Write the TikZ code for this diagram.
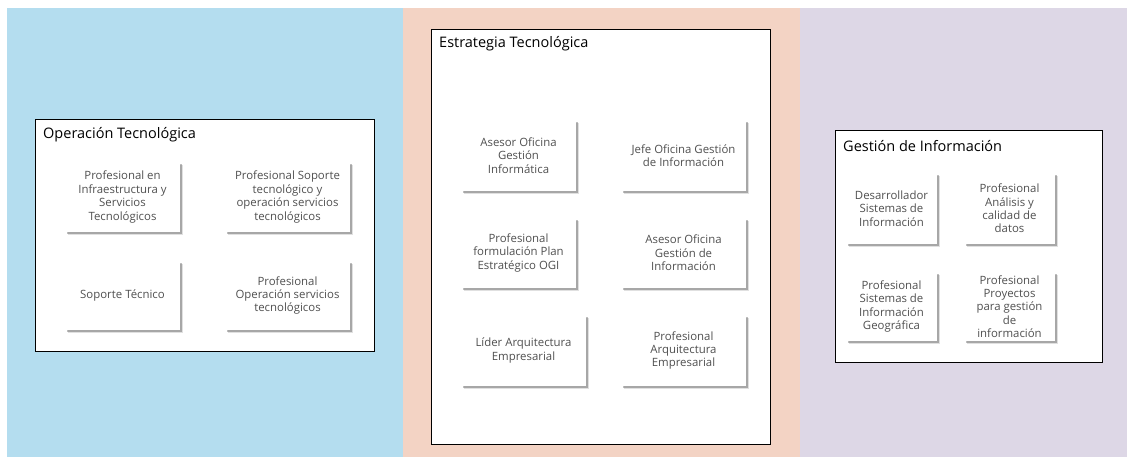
\documentclass[tikz,border=0pt]{standalone}
\usepackage{fontspec}
\setmainfont{Open Sans}
\usetikzlibrary{shadows}
\definecolor{bandblue}{RGB}{180,221,239}
\definecolor{bandsalmon}{RGB}{243,211,196}
\definecolor{bandlilac}{RGB}{221,215,230}
\definecolor{roletext}{RGB}{80,80,80}
\tikzset{
  area/.style={draw=black, fill=white, line width=0.8pt},
  areatitle/.style={anchor=west, inner sep=0pt, font=\fontsize{14.5}{17}\selectfont},
  role/.style={fill=white, text=roletext, align=center, inner sep=1pt,
    font=\fontsize{11.4}{13.4}\selectfont,
    drop shadow={shadow xshift=3pt, shadow yshift=-3pt, opacity=0.12, fill=black},
    drop shadow={shadow xshift=1.8pt, shadow yshift=-1.8pt, opacity=0.25, fill=black}},
}
\begin{document}
\begin{tikzpicture}[x=1pt, y=-1pt]
\useasboundingbox (0,0) rectangle (1127,457);
% bands
\fill [bandblue] (7,8) rectangle (403,457);
\fill [bandsalmon] (403,8) rectangle (800,457);
\fill [bandlilac] (800,8) rectangle (1127,457);

% Operacion Tecnologica
\draw [area] (35,119) rectangle (374,351);
\node [areatitle] (optitle) at (43,135) {Operación Tecnológica};
\node [role, minimum width=115, minimum height=70] (opinfra) at (122.5,197) {Profesional en\\Infraestructura y\\Servicios\\Tecnológicos};
\node [role, minimum width=125, minimum height=70] (opsoporte) at (287.5,197) {Profesional Soporte\\tecnológico y\\operación servicios\\tecnológicos};
\node [role, minimum width=115, minimum height=69] (optecnico) at (122.5,295.5) {Soporte Técnico};
\node [role, minimum width=125, minimum height=69] (opservicios) at (287.5,295.5) {Profesional\\Operación servicios\\tecnológicos};

% Estrategia Tecnologica
\draw [area] (431,29) rectangle (770,444);
\node [areatitle] (ettitle) at (439,44) {Estrategia Tecnológica};
\node [role, minimum width=115, minimum height=71] (etasesorgi) at (518.5,155.5) {Asesor Oficina\\Gestión\\Informática};
\node [role, minimum width=125, minimum height=71] (etjefe) at (683.5,155.5) {Jefe Oficina Gestión\\de Información};
\node [role, minimum width=115, minimum height=70] (etplan) at (518.5,253) {Profesional\\formulación Plan\\Estratégico OGI};
\node [role, minimum width=125, minimum height=70] (etasesorinfo) at (683.5,253) {Asesor Oficina\\Gestión de\\Información};
\node [role, minimum width=125, minimum height=71] (etlider) at (523.5,350.5) {Líder Arquitectura\\Empresarial};
\node [role, minimum width=125, minimum height=71] (etarq) at (683.5,350.5) {Profesional\\Arquitectura\\Empresarial};

% Gestion de Informacion
\draw [area] (835,130) rectangle (1102,362);
\node [areatitle] (gititle) at (843,146) {Gestión de Información};
\node [role, minimum width=91, minimum height=71] (gidesarrollo) at (891.5,208.5) {Desarrollador\\Sistemas de\\Información};
\node [role, minimum width=91, minimum height=71] (gidatos) at (1009.5,208.5) {Profesional\\Análisis y\\calidad de\\datos};
\node [role, minimum width=91, minimum height=69] (gigeo) at (891.5,306.5) {Profesional\\Sistemas de\\Información\\Geográfica};
\node [role, minimum width=91, minimum height=69] (giproyectos) at (1009.5,306.5) {Profesional\\Proyectos\\para gestión\\de\\información};
\end{tikzpicture}
\end{document}
